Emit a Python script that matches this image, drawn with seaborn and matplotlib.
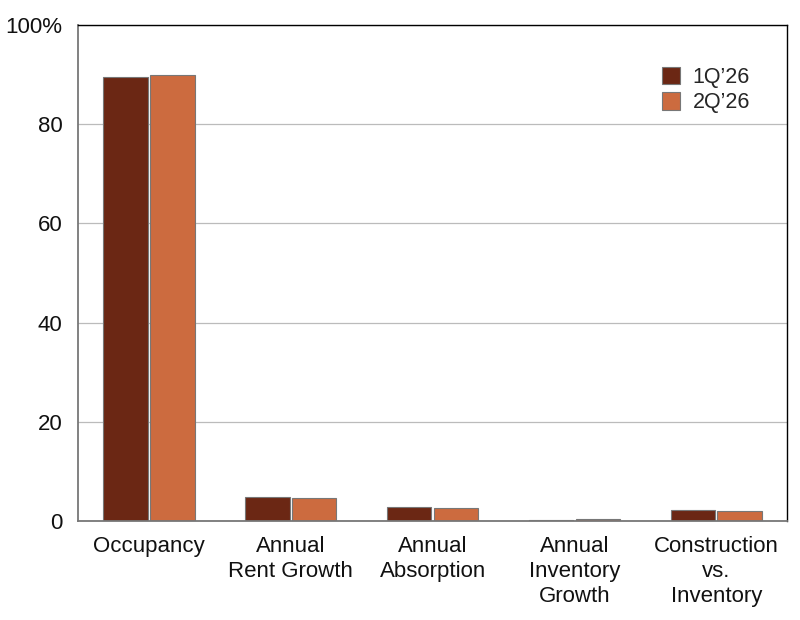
import pandas as pd
import seaborn as sns
import matplotlib.pyplot as plt

categorias = ["Occupancy", "Annual\nRent Growth", "Annual\nAbsorption",
              "Annual\nInventory\nGrowth", "Construction\nvs.\nInventory"]
trimestres = ["1Q\u201926", "2Q\u201926"]
valores_1q = [89.5, 4.8, 2.9, 0.25, 2.3]
valores_2q = [89.9, 4.6, 2.55, 0.35, 2.1]
ticks_y = [0, 20, 40, 60, 80, 100]
rotulos_y = ["0", "20", "40", "60", "80", "100%"]

df = pd.DataFrame({
    "categoria": categorias * 2,
    "trimestre": [trimestres[0]] * 5 + [trimestres[1]] * 5,
    "valor": valores_1q + valores_2q,
})

sns.set_style("white")
plt.rcParams['font.family'] = ['Liberation Sans', 'DejaVu Sans']

fig = plt.figure(figsize=(8, 6.2), dpi=100)
ax = fig.add_axes([0.0975, 0.1597, 0.8865, 0.8])

cores = ["#6B2714", "#CC6B3F"]
sns.barplot(data=df, x="categoria", y="valor", hue="trimestre",
            palette=cores, width=0.66, gap=0.05, ax=ax,
            edgecolor="#777777", linewidth=0.8, saturation=1)

ax.set_ylim(0, 100)
ax.set_xlim(-0.5, 4.5)
ax.set_yticks(ticks_y)
ax.set_yticklabels(rotulos_y)
ax.yaxis.grid(True, color="#BBBBBB", linewidth=0.9)
ax.set_axisbelow(True)
ax.set_xlabel("")
ax.set_ylabel("")
ax.tick_params(axis='both', length=0, labelsize=16, colors="#111111")
ax.tick_params(axis='y', pad=11)
ax.tick_params(axis='x', pad=11)
for rotulo in ax.get_xticklabels():
    rotulo.set_linespacing(1.25)

for lado in ["top", "right"]:
    ax.spines[lado].set_color("black")
    ax.spines[lado].set_linewidth(1.0)
for lado in ["left", "bottom"]:
    ax.spines[lado].set_color("#777777")
    ax.spines[lado].set_linewidth(1.3)

leg = ax.legend(loc="upper right", bbox_to_anchor=(0.975, 0.955), frameon=False,
                fontsize=15.5, handlelength=0.85, handleheight=0.85,
                handletextpad=0.6, labelspacing=0.22)

fig.savefig("out.png", dpi=100)
